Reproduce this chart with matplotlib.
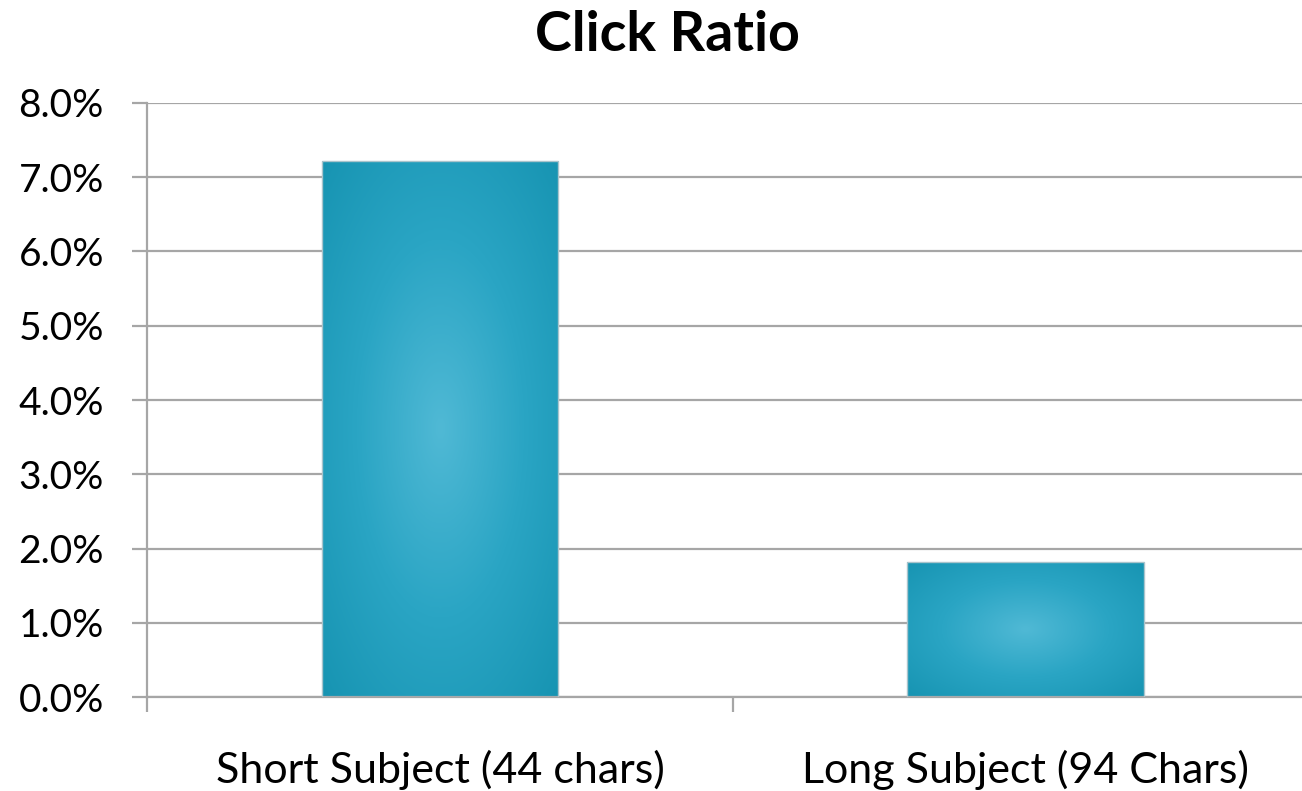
import numpy as np
import matplotlib.pyplot as plt
from matplotlib.colors import LinearSegmentedColormap
from matplotlib.ticker import FuncFormatter

plt.rcParams['font.family'] = ['Lato', 'DejaVu Sans']

categories = ["Short Subject (44 chars)", "Long Subject (94 Chars)"]
click_ratio = [7.22, 1.82]
title = "Click Ratio"

fig = plt.figure(figsize=(13.02, 7.91), dpi=100)
ax = fig.add_axes([0.1129, 0.1188, 0.900, 0.751])

x = np.arange(len(categories))
bars = ax.bar(x, click_ratio, width=0.404, color='none',
              edgecolor='#a9c4cc', linewidth=1.0, zorder=3)

# radial gradient fill, clipped to each bar
cmap = LinearSegmentedColormap.from_list('teal', ['#50b9d5', '#2aa5c4', '#1794b2'])
n = 200
gx, gy = np.meshgrid(np.linspace(-1, 1, n), np.linspace(-1, 1, n))
grad = np.sqrt(gx ** 2 + gy ** 2) / np.sqrt(2)
for b in bars:
    x0, y0 = b.get_x(), b.get_y()
    w, h = b.get_width(), b.get_height()
    im = ax.imshow(grad, cmap=cmap, vmin=0, vmax=1, aspect='auto',
                   extent=[x0, x0 + w, y0, y0 + h], origin='lower',
                   zorder=2, interpolation='bilinear')
    im.set_clip_path(b)

ax.set_xlim(-0.5, 1.5)
ax.set_ylim(0, 8)
ax.set_yticks(np.arange(0, 9, 1))
ax.yaxis.set_major_formatter(FuncFormatter(lambda v, p: f"{v:.1f}%"))
ax.grid(axis='y', color='#a6a6a6', linewidth=1.6, zorder=0)
ax.set_axisbelow(True)

ax.set_xticks(x)
ax.set_xticklabels(categories)
ax.set_xticks([-0.5, 0.5, 1.5], minor=True)
ax.tick_params(axis='x', which='major', length=0, pad=38, labelsize=31)
ax.tick_params(axis='x', which='minor', length=11, width=1.6, color='#a6a6a6')
ax.tick_params(axis='y', length=11, width=1.6, color='#a6a6a6', pad=20, labelsize=28)

for s in ['top', 'right']:
    ax.spines[s].set_visible(False)
for s in ['left', 'bottom']:
    ax.spines[s].set_color('#a6a6a6')
    ax.spines[s].set_linewidth(1.6)

fig.text(667 / 1302, 1 - 35 / 791, title, ha='center', va='center',
         fontsize=40, fontweight='bold')

fig.savefig('out.png', dpi=100)
